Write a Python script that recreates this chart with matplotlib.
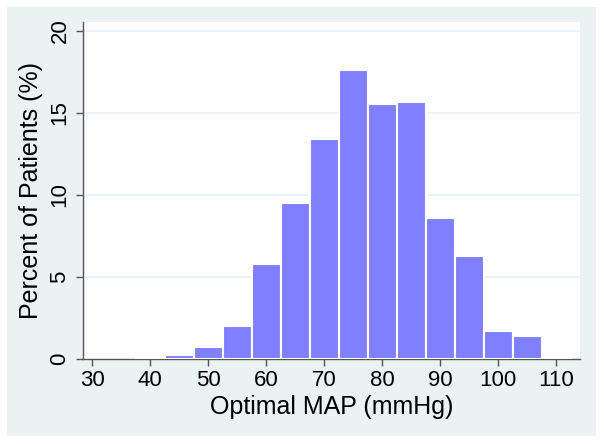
import matplotlib
matplotlib.use('Agg')
import matplotlib.pyplot as plt
from matplotlib.patches import Rectangle

# histogram bins (centres, width 5) and percent of patients
bin_centres = [40, 45, 50, 55, 60, 65, 70, 75, 80, 85, 90, 95, 100, 105, 110]
percent = [0.08, 0.24, 0.71, 2.03, 5.77, 9.53, 13.4, 17.6, 15.55, 15.7, 8.58, 6.26, 1.73, 1.38, 0.08]
x_ticks = [30, 40, 50, 60, 70, 80, 90, 100, 110]
y_ticks = [0, 5, 10, 15, 20]

plt.rcParams['font.family'] = ['Liberation Sans', 'DejaVu Sans']

fig = plt.figure(figsize=(6.04, 4.44), dpi=100, facecolor='white')
bg = '#eaf2f3'
fig.patches.append(Rectangle((7 / 604, 8 / 444), 589 / 604, 429 / 444,
                             transform=fig.transFigure, facecolor=bg,
                             edgecolor='none', zorder=-10))

ax = fig.add_axes([83 / 604, 85 / 444, 497 / 604, 337 / 444])
ax.set_facecolor('white')

ax.bar(bin_centres, percent, width=5, color='#8080ff', edgecolor='white',
       linewidth=1.5, zorder=3)

ax.set_xlim(28.4, 114.1)
ax.set_ylim(0, 20.55)
ax.set_xticks(x_ticks)
ax.set_yticks(y_ticks)
ax.set_yticklabels([str(v) for v in y_ticks], rotation=90, va='center')

for v in y_ticks[1:]:
    ax.axhline(v, color=bg, linewidth=1.2, zorder=1)

for s in ['top', 'right']:
    ax.spines[s].set_visible(False)
for s in ['left', 'bottom']:
    ax.spines[s].set_color('#555555')
    ax.spines[s].set_linewidth(1.0)

ax.tick_params(axis='both', direction='out', length=5, width=1,
               color='#555555', labelsize=16, labelcolor='black')
ax.tick_params(axis='x', pad=3)
ax.tick_params(axis='y', pad=4)

ax.set_xlabel('Optimal MAP (mmHg)', fontsize=18, labelpad=3)
ax.set_ylabel('Percent of Patients (%)', fontsize=18, labelpad=5)

fig.savefig('out.png', dpi=100, facecolor='white')
